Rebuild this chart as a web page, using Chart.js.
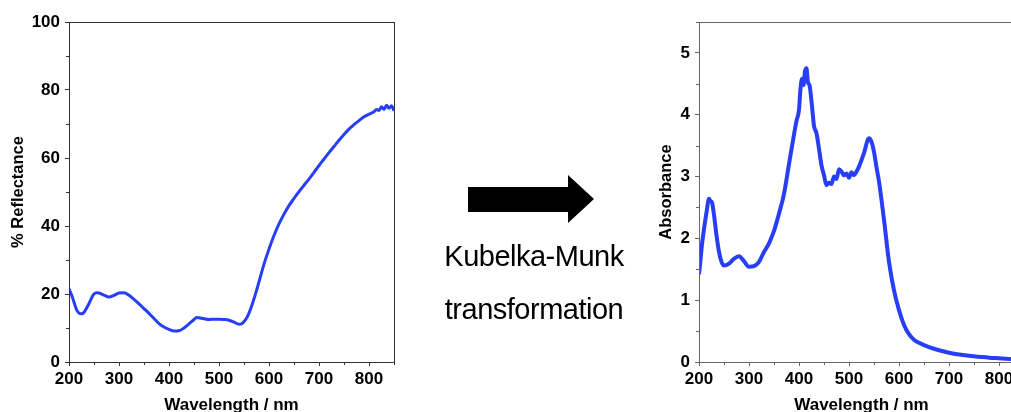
<!DOCTYPE html>
<html>
<head>
<meta charset="utf-8">
<script src="https://cdn.jsdelivr.net/npm/chart.js@4.4.1/dist/chart.umd.min.js"></script>
<style>
  html, body { margin: 0; padding: 0; background: #fff; overflow: hidden; width: 1011px; height: 412px; }
  canvas { position: absolute; top: 0; }
  #reflChart { left: 0; }
  #absChart { left: 630px; }
  .km { position: absolute; left: 424px; width: 220px; text-align: center; line-height: 1;
        font-family: "Liberation Sans", Arial, sans-serif; font-size: 29px; letter-spacing: -0.5px; color: #000; }
  #arrow { position: absolute; left: 0; top: 0; }
</style>
</head>
<body>
<canvas id="reflChart" width="400" height="420"></canvas>
<svg id="arrow" width="1011" height="412"><polygon points="468,187 568,187 568,175 594,199 568,223 568,212 468,212" fill="#000"/></svg>
<div class="km" style="top:242px">Kubelka-Munk</div>
<div class="km" style="top:295px">transformation</div>
<canvas id="absChart" width="400" height="420"></canvas>
<script>
// reflectance spectrum (left)
const wlRefl = [200,205,210,215,220,225,230,235,240,245,250,255,260,270,280,290,300,310,320,330,340,350,360,370,380,390,400,410,420,430,440,450,455,460,470,480,490,500,510,520,530,540,545,550,555,560,565,570,575,580,585,590,600,610,620,630,640,650,660,670,680,690,700,710,720,730,740,750,760,770,780,790,800,810,815,820,825,830,835,840,845,850];
const reflectance = [21.5,19.8,17.6,15.4,14.4,14.2,14.6,15.8,17.2,18.8,20.0,20.4,20.3,19.7,19.1,19.6,20.3,20.4,19.6,18.4,17.1,15.7,14.3,12.8,11.3,10.3,9.6,9.1,9.2,10.0,11.2,12.5,13.1,13.0,12.7,12.5,12.6,12.6,12.5,12.3,11.7,11.1,11.2,11.9,12.9,14.4,16.3,18.6,21.0,23.6,26.2,28.8,33.2,37.2,40.6,43.5,46.0,48.1,50.1,52.0,53.8,55.8,57.8,59.7,61.6,63.4,65.2,66.9,68.5,69.8,71.0,72.1,72.9,73.6,74.3,74.0,75.1,74.3,75.5,74.6,75.4,73.9];

// Kubelka-Munk absorbance (right)
const wlAbs = [200,203,206,210,215,220,223,226,230,235,240,245,250,260,270,280,290,300,310,320,330,340,350,360,370,380,390,395,400,403,406,409,412,415,418,421,425,430,435,440,445,450,455,460,465,470,475,480,485,490,495,500,505,510,515,520,530,540,545,550,555,560,570,580,590,600,610,620,630,640,660,680,700,720,740,760,780,800,820,850];
const absorbance = [1.42,1.65,1.90,2.15,2.42,2.64,2.60,2.58,2.38,2.05,1.78,1.62,1.56,1.59,1.67,1.71,1.63,1.54,1.55,1.62,1.78,1.92,2.12,2.40,2.72,3.20,3.68,3.90,4.08,4.42,4.58,4.48,4.70,4.75,4.52,4.48,4.22,3.82,3.70,3.45,3.18,3.02,2.86,2.90,2.88,3.00,2.96,3.12,3.08,3.02,3.05,2.98,3.07,3.02,3.08,3.16,3.38,3.62,3.56,3.40,3.15,2.92,2.30,1.62,1.16,0.84,0.60,0.45,0.36,0.31,0.24,0.19,0.15,0.12,0.10,0.085,0.07,0.06,0.05,0.04];

// tick positions
const xTicks = [200,300,400,500,600,700,800];
const reflTicks = [0,20,40,60,80,100];
const absTicks = [0,1,2,3,4,5];
const xMinor = [250,350,450,550,650,750,850];
const reflMinor = [10,30,50,70,90];
const absMinor = [0.5,1.5,2.5,3.5,4.5,5.5];

const lineColor = 'rgb(40,62,245)';
const fontFamily = '"Liberation Sans", Arial, sans-serif';

// frame + minor ticks
const framePlugin = {
  id: 'frame',
  afterDraw(chart, args, opts) {
    const { ctx, chartArea: a, scales: { x, y } } = chart;
    ctx.save();
    ctx.strokeStyle = opts.color;
    ctx.lineWidth = 1;
    ctx.strokeRect(a.left + 0.5, a.top + 0.5, a.right - a.left, a.bottom - a.top);
    ctx.beginPath();
    opts.xMinor.forEach(v => {
      const px = Math.round(x.getPixelForValue(v)) + 0.5;
      ctx.moveTo(px, a.bottom); ctx.lineTo(px, a.bottom + 3);
    });
    opts.yMinor.forEach(v => {
      const py = Math.round(y.getPixelForValue(v)) + 0.5;
      ctx.moveTo(a.left, py); ctx.lineTo(a.left - 3, py);
    });
    ctx.stroke();
    ctx.restore();
  }
};

function makeChart(id, xs, ys, opts) {
  return new Chart(document.getElementById(id), {
    type: 'line',
    data: {
      labels: xs,
      datasets: [{
        data: ys,
        borderColor: lineColor,
        borderWidth: opts.lineWidth,
        pointRadius: 0,
        fill: false,
        cubicInterpolationMode: 'monotone',
        borderJoinStyle: 'round'
      }]
    },
    plugins: [framePlugin],
    options: {
      responsive: false,
      animation: false,
      layout: { padding: { top: 22, right: 6, left: 0, bottom: 0 } },
      plugins: {
        legend: { display: false },
        tooltip: { enabled: false },
        frame: { color: opts.axisColor, xMinor: xMinor, yMinor: opts.yMinor }
      },
      scales: {
        x: {
          type: 'linear',
          min: 200, max: 850,
          afterFit: s => { s.height = 58; },
          afterBuildTicks: s => { s.ticks = xTicks.map(v => ({ value: v })); },
          ticks: { padding: 3, color: '#000', maxRotation: 0, autoSkip: false,
                   font: { family: fontFamily, size: 17, weight: 'bold' } },
          grid: { drawOnChartArea: false, drawTicks: true, tickLength: 4, color: opts.axisColor },
          border: { display: false },
          title: { display: true, text: 'Wavelength / nm', color: '#000',
                   padding: { top: 0, bottom: 4 },
                   font: { family: fontFamily, size: 17, weight: 'bold' } }
        },
        y: {
          min: 0, max: opts.yMax,
          afterFit: s => { s.width = 69; },
          afterBuildTicks: s => { s.ticks = opts.yTicks.map(v => ({ value: v })); },
          ticks: { padding: 5, color: '#000', autoSkip: false,
                   font: { family: fontFamily, size: 17, weight: 'bold' } },
          grid: { drawOnChartArea: false, drawTicks: true, tickLength: 4, color: opts.axisColor },
          border: { display: false },
          title: { display: true, text: opts.yTitle, color: '#000',
                   padding: { top: opts.yTitlePad, bottom: 0 },
                   font: { family: fontFamily, size: 16.5, weight: 'bold' } }
        }
      }
    }
  });
}

makeChart('reflChart', wlRefl, reflectance, {
  yMax: 100, yTicks: reflTicks, yMinor: reflMinor, yTitle: '% Reflectance',
  yTitlePad: 9, lineWidth: 3, axisColor: '#333'
});

makeChart('absChart', wlAbs, absorbance, {
  yMax: 5.5, yTicks: absTicks, yMinor: absMinor, yTitle: 'Absorbance',
  yTitlePad: 27, lineWidth: 4, axisColor: '#666'
});
</script>
</body>
</html>
